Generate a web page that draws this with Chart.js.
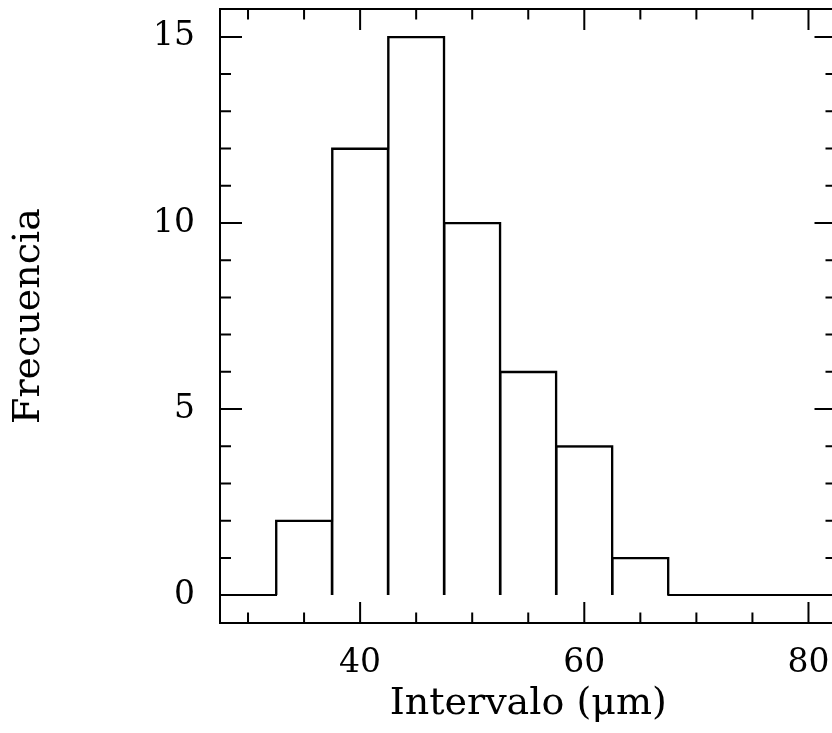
<!DOCTYPE html>
<html>
<head>
<meta charset="utf-8">
<script src="https://cdn.jsdelivr.net/npm/chart.js@4"></script>
<style>
    html, body { margin: 0; padding: 0; background: #fff; overflow: hidden; }
    #wrap { position: relative; width: 850px; height: 733px; }
</style>
</head>
<body>
<div id="wrap"><canvas id="myChart"></canvas></div>
<script>
// histogram bins (centres, in micrometres) and counts
const binCentres = [30, 35, 40, 45, 50, 55, 60, 65, 70, 75, 80];
const binCounts = [0, 2, 12, 15, 10, 6, 4, 1, 0, 0, 0];
const binWidth = 5;

// labelled ticks
const xTickLabels = [40, 60, 80];
const yTickLabels = [0, 5, 10, 15];

const xMinor = 5, xMajor = 20;
const yMinor = 1, yMajor = 5;

/**
 * inward ticks on all four sides plus the frame
 */
const frameTicks = {
    id: 'frameTicks',
    afterDatasetsDraw(chart) {
        const { ctx, chartArea: a, scales: { x, y } } = chart;
        ctx.save();
        ctx.strokeStyle = '#000';
        ctx.lineWidth = 2;
        ctx.strokeRect(a.left, a.top, a.right - a.left, a.bottom - a.top);
        ctx.beginPath();
        for (let v = Math.ceil(x.min / xMinor) * xMinor; v <= x.max; v += xMinor) {
            const px = x.getPixelForValue(v);
            const len = v % xMajor === 0 ? 21 : 10.5;
            ctx.moveTo(px, a.bottom); ctx.lineTo(px, a.bottom - len);
            ctx.moveTo(px, a.top); ctx.lineTo(px, a.top + len);
        }
        for (let v = Math.ceil(y.min / yMinor) * yMinor; v <= y.max; v += yMinor) {
            const py = y.getPixelForValue(v);
            const len = v % yMajor === 0 ? 22 : 11;
            ctx.moveTo(a.left, py); ctx.lineTo(a.left + len, py);
            ctx.moveTo(a.right, py); ctx.lineTo(a.right - len, py);
        }
        ctx.stroke();
        ctx.restore();
    }
};

function loadChart()
{
    const bars = binCentres.map((c, i) => ({ x: c, y: binCounts[i] }));
    const outline = binCentres.map((c, i) => ({ x: c - binWidth / 2, y: binCounts[i] }));
    const last = binCentres.length - 1;
    outline.push({ x: binCentres[last] + binWidth / 2, y: binCounts[last] });

    const xMin = binCentres[0] - binWidth / 2;
    const xMax = binCentres[last] + binWidth / 2;

    const config = {
        type: 'bar',
        data: {
            datasets: [
                {
                    type: 'line',
                    data: outline,
                    stepped: 'before',
                    borderColor: '#000',
                    borderWidth: 2,
                    pointRadius: 0,
                    fill: false
                },
                {
                    data: bars,
                    backgroundColor: 'rgba(0,0,0,0)',
                    borderColor: '#000',
                    borderWidth: 1,
                    borderSkipped: 'bottom',
                    barPercentage: 1,
                    categoryPercentage: 1
                }
            ]
        },
        options: {
            responsive: true,
            maintainAspectRatio: false,
            animation: false,
            layout: {
                padding: { left: 0, top: 9, right: 13.5, bottom: 0 }
            },
            plugins: {
                legend: { display: false },
                tooltip: { enabled: false }
            },
            scales: {
                x: {
                    type: 'linear',
                    min: xMin,
                    max: xMax,
                    offset: false,
                    grid: { display: false, drawTicks: false },
                    border: { display: false },
                    afterBuildTicks: s => { s.ticks = xTickLabels.map(v => ({ value: v })); },
                    afterFit: s => {
                        s.height = 110;
                        s.paddingLeft = 0;
                        s.paddingRight = 0;
                    },
                    ticks: {
                        color: '#000',
                        padding: 21,
                        maxRotation: 0,
                        font: { family: 'DejaVu Serif', size: 33 }
                    },
                    title: {
                        display: true,
                        text: 'Intervalo (μm)',
                        color: '#000',
                        font: { family: 'DejaVu Serif', size: 38 },
                        padding: { top: 0, bottom: 6 }
                    }
                },
                y: {
                    min: -0.75,
                    max: 15.75,
                    grid: { display: false, drawTicks: false },
                    border: { display: false },
                    afterBuildTicks: s => { s.ticks = yTickLabels.map(v => ({ value: v })); },
                    afterFit: s => {
                        s.width = 220;
                        s.paddingTop = 0;
                        s.paddingBottom = 0;
                    },
                    ticks: {
                        color: '#000',
                        padding: 25,
                        font: { family: 'DejaVu Serif', size: 33 }
                    },
                    title: {
                        display: true,
                        text: 'Frecuencia',
                        color: '#000',
                        font: { family: 'DejaVu Serif', size: 38 },
                        padding: { top: 6, bottom: 0 }
                    }
                }
            }
        },
        plugins: [frameTicks]
    };

    const ctx = document.getElementById('myChart').getContext('2d');

    if (ctx) {
        new Chart(ctx, config);
    }
}

loadChart();
</script>
</body>
</html>
